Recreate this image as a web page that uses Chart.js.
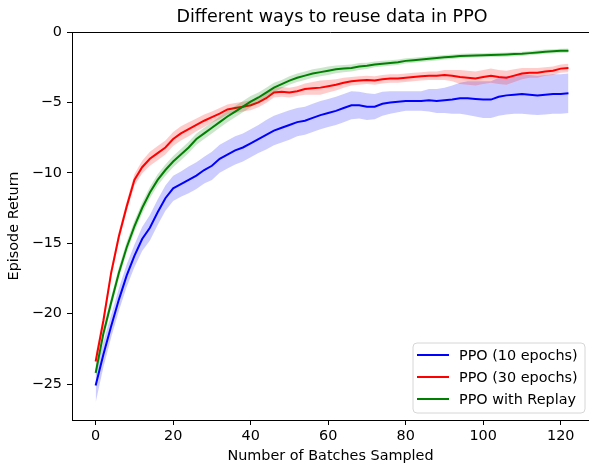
<!DOCTYPE html>
<html>
<head>
<meta charset="utf-8">
<script src="https://cdn.jsdelivr.net/npm/chart.js@4/dist/chart.umd.min.js"></script>
<style>
    html, body { margin: 0; padding: 0; background: #fff; overflow: hidden; }
    #wrap { width: 589px; height: 466px; }
</style>
</head>
<body>
<div id="wrap"><canvas id="ppoChart" width="589" height="466"></canvas></div>
<script>
// batches sampled (x)
const batches = [0, 2, 4, 6, 8, 10, 12, 14, 16, 18, 20, 22, 24, 26, 28, 30, 32, 34, 36, 38,
    40, 42, 44, 46, 48, 50, 52, 54, 56, 58, 60, 62, 64, 66, 68, 70, 72, 74, 76, 78,
    80, 82, 84, 86, 88, 90, 92, 94, 96, 98, 100, 102, 104, 106, 108, 110, 112, 114, 116, 118,
    120, 122];

// PPO (10 epochs)
const ppo10Mean = [-25.1, -22.9, -20.9, -19.0, -17.3, -15.9, -14.7, -13.9, -12.8, -11.8,
    -11.1, -10.8, -10.5, -10.2, -9.8, -9.5, -9.0, -8.7, -8.4, -8.2,
    -7.9, -7.6, -7.3, -7.0, -6.8, -6.6, -6.4, -6.3, -6.1, -5.9,
    -5.75, -5.6, -5.4, -5.2, -5.2, -5.3, -5.3, -5.1, -5.0, -4.95,
    -4.9, -4.9, -4.9, -4.85, -4.9, -4.85, -4.8, -4.7, -4.7, -4.75,
    -4.8, -4.8, -4.6, -4.5, -4.45, -4.4, -4.45, -4.5, -4.45, -4.4,
    -4.4, -4.35];
const ppo10Spread = [1.2, 0.9, 0.8, 0.8, 0.8, 0.8, 0.85, 0.9, 0.9, 0.9,
    0.9, 0.9, 0.95, 0.95, 0.95, 1.0, 1.0, 1.0, 1.0, 1.0,
    1.0, 1.0, 1.05, 1.05, 1.05, 1.05, 1.0, 1.0, 1.0, 1.0,
    1.0, 1.0, 1.0, 1.0, 0.95, 0.95, 0.9, 0.85, 0.8, 0.75,
    0.7, 0.7, 0.7, 0.8, 0.85, 0.9, 1.0, 1.1, 1.2, 1.25,
    1.3, 1.3, 1.35, 1.35, 1.35, 1.4, 1.4, 1.4, 1.4, 1.4,
    1.4, 1.4];

// PPO (30 epochs)
const ppo30Mean = [-23.4, -20.5, -17.1, -14.5, -12.4, -10.5, -9.6, -9.0, -8.6, -8.2,
    -7.6, -7.2, -6.9, -6.6, -6.3, -6.05, -5.8, -5.5, -5.4, -5.3,
    -5.2, -5.0, -4.7, -4.3, -4.25, -4.3, -4.2, -4.05, -4.0, -3.95,
    -3.85, -3.75, -3.6, -3.5, -3.45, -3.4, -3.45, -3.35, -3.3, -3.3,
    -3.25, -3.2, -3.15, -3.1, -3.1, -3.05, -3.1, -3.2, -3.25, -3.3,
    -3.2, -3.1, -3.2, -3.25, -3.1, -2.95, -2.9, -2.9, -2.8, -2.75,
    -2.6, -2.55];
const ppo30Spread = [0.5, 0.4, 0.35, 0.35, 0.35, 0.4, 0.45, 0.5, 0.5, 0.5,
    0.5, 0.5, 0.5, 0.45, 0.45, 0.4, 0.4, 0.35, 0.35, 0.35,
    0.35, 0.35, 0.35, 0.35, 0.35, 0.35, 0.35, 0.4, 0.45, 0.5,
    0.45, 0.4, 0.35, 0.3, 0.3, 0.3, 0.3, 0.3, 0.3, 0.3,
    0.3, 0.3, 0.3, 0.3, 0.3, 0.35, 0.4, 0.5, 0.5, 0.5,
    0.5, 0.5, 0.5, 0.5, 0.45, 0.4, 0.35, 0.35, 0.3, 0.3,
    0.3, 0.3];

// PPO with Replay
const replayMean = [-24.2, -21.4, -19.2, -17.1, -15.3, -13.8, -12.5, -11.4, -10.5, -9.8,
    -9.2, -8.7, -8.2, -7.6, -7.2, -6.8, -6.4, -6.0, -5.65, -5.3,
    -4.95, -4.65, -4.3, -3.95, -3.7, -3.45, -3.25, -3.1, -2.95, -2.85,
    -2.75, -2.65, -2.6, -2.55, -2.45, -2.4, -2.3, -2.25, -2.2, -2.15,
    -2.05, -2.0, -1.95, -1.9, -1.85, -1.8, -1.75, -1.7, -1.68, -1.66,
    -1.65, -1.63, -1.62, -1.6, -1.57, -1.55, -1.5, -1.45, -1.4, -1.37,
    -1.34, -1.33];
const replaySpread = [0.4, 0.4, 0.4, 0.4, 0.4, 0.4, 0.4, 0.4, 0.4, 0.4,
    0.4, 0.4, 0.4, 0.4, 0.4, 0.4, 0.4, 0.4, 0.4, 0.4,
    0.4, 0.35, 0.35, 0.35, 0.3, 0.3, 0.3, 0.3, 0.3, 0.3,
    0.3, 0.28, 0.26, 0.25, 0.24, 0.22, 0.2, 0.2, 0.2, 0.2,
    0.18, 0.18, 0.18, 0.17, 0.17, 0.16, 0.16, 0.16, 0.15, 0.15,
    0.15, 0.15, 0.15, 0.15, 0.15, 0.15, 0.15, 0.15, 0.15, 0.15,
    0.15, 0.15];

const xTickValues = [0, 20, 40, 60, 80, 100, 120];
const yTickValues = [-25, -20, -15, -10, -5, 0];

const chartTitle = "Different ways to reuse data in PPO";
const xLabel = "Number of Batches Sampled";
const yLabel = "Episode Return";

const seriesList = [
    { name: "PPO (10 epochs)", mean: ppo10Mean, spread: ppo10Spread, color: "#0000ff", band: "rgba(0,0,255,0.2)" },
    { name: "PPO (30 epochs)", mean: ppo30Mean, spread: ppo30Spread, color: "#ff0000", band: "rgba(255,0,0,0.2)" },
    { name: "PPO with Replay", mean: replayMean, spread: replaySpread, color: "#008000", band: "rgba(0,128,0,0.2)" }
];

const FONT = "'DejaVu Sans', sans-serif";
const TEXT_SIZE = 14.4;

function toPoints(ys) {
    return batches.map((x, i) => ({ x: x, y: ys[i] }));
}

function buildDatasets() {
    const sets = [];
    seriesList.forEach((s, k) => {
        const base = 2 * (seriesList.length - k);
        sets.push({
            label: s.name + " upper",
            data: toPoints(s.mean.map((m, i) => m + s.spread[i])),
            borderWidth: 0, pointRadius: 0, fill: false,
            borderColor: "rgba(0,0,0,0)", order: base
        });
        sets.push({
            label: s.name + " lower",
            data: toPoints(s.mean.map((m, i) => m - s.spread[i])),
            borderWidth: 0, pointRadius: 0, fill: "-1",
            borderColor: "rgba(0,0,0,0)", backgroundColor: s.band, order: base
        });
        sets.push({
            label: s.name,
            data: toPoints(s.mean),
            borderWidth: 2, pointRadius: 0, fill: false,
            borderColor: s.color, order: base - 1
        });
    });
    return sets;
}

const extras = {
    id: "extras",
    afterDraw(chart) {
        const ctx = chart.ctx;
        const area = chart.chartArea;
        ctx.save();
        // top spine
        ctx.strokeStyle = "#000";
        ctx.lineWidth = 1;
        ctx.beginPath();
        ctx.moveTo(area.left, area.top + 0.5);
        ctx.lineTo(area.right, area.top + 0.5);
        ctx.stroke();

        // title centred over the full axes
        ctx.fillStyle = "#000";
        ctx.font = "17.5px " + FONT;
        ctx.textAlign = "center";
        ctx.textBaseline = "middle";
        ctx.fillText(chartTitle, 332, 17);

        // legend
        const bx = 413, by = 343, bw = 172, bh = 70, r = 4;
        ctx.beginPath();
        ctx.moveTo(bx + r, by);
        ctx.arcTo(bx + bw, by, bx + bw, by + bh, r);
        ctx.arcTo(bx + bw, by + bh, bx, by + bh, r);
        ctx.arcTo(bx, by + bh, bx, by, r);
        ctx.arcTo(bx, by, bx + bw, by, r);
        ctx.closePath();
        ctx.fillStyle = "rgba(255,255,255,0.8)";
        ctx.fill();
        ctx.strokeStyle = "#d6d6d6";
        ctx.stroke();

        ctx.font = TEXT_SIZE + "px " + FONT;
        ctx.textAlign = "left";
        seriesList.forEach((s, i) => {
            const ry = 355 + i * 22;
            ctx.strokeStyle = s.color;
            ctx.lineWidth = 2;
            ctx.beginPath();
            ctx.moveTo(417, ry);
            ctx.lineTo(449, ry);
            ctx.stroke();
            ctx.fillStyle = "#000";
            ctx.fillText(s.name, 459, ry + 1);
        });
        ctx.restore();
    }
};

function minusFmt(v) {
    return String(v).replace("-", "\u2212");
}

function renderChart() {
    const ctx = document.getElementById("ppoChart").getContext("2d");
    new Chart(ctx, {
        type: "line",
        data: { datasets: buildDatasets() },
        options: {
            responsive: false,
            animation: false,
            devicePixelRatio: 1,
            layout: { padding: { top: 32, left: 0, right: 0, bottom: 0 } },
            plugins: {
                legend: { display: false },
                tooltip: { enabled: false },
                title: { display: false }
            },
            elements: { line: { tension: 0 } },
            scales: {
                x: {
                    type: "linear",
                    min: -6.1,
                    max: 127.3,
                    afterBuildTicks: (scale) => { scale.ticks = xTickValues.map(v => ({ value: v })); },
                    afterFit: (scale) => { scale.height = 46; },
                    grid: { drawOnChartArea: false, drawTicks: true, tickLength: 5, tickColor: "#000", tickWidth: 1 },
                    border: { display: true, color: "#000", width: 1 },
                    ticks: { color: "#000", padding: 3, maxRotation: 0, font: { family: FONT, size: TEXT_SIZE }, callback: minusFmt },
                    title: { display: true, text: xLabel, color: "#000", padding: { top: 0, bottom: 1 }, font: { family: FONT, size: TEXT_SIZE } }
                },
                y: {
                    type: "linear",
                    min: -27.55,
                    max: 0,
                    afterBuildTicks: (scale) => { scale.ticks = yTickValues.map(v => ({ value: v })); },
                    afterFit: (scale) => { scale.width = 72; },
                    grid: { drawOnChartArea: false, drawTicks: true, tickLength: 5, tickColor: "#000", tickWidth: 1 },
                    border: { display: true, color: "#000", width: 1 },
                    ticks: { color: "#000", padding: 5, font: { family: FONT, size: TEXT_SIZE }, callback: minusFmt },
                    title: { display: true, text: yLabel, color: "#000", padding: { top: 6, bottom: 0 }, font: { family: FONT, size: TEXT_SIZE } }
                }
            }
        },
        plugins: [extras]
    });
}

document.addEventListener("DOMContentLoaded", () => {
    renderChart();
});
</script>
</body>
</html>
